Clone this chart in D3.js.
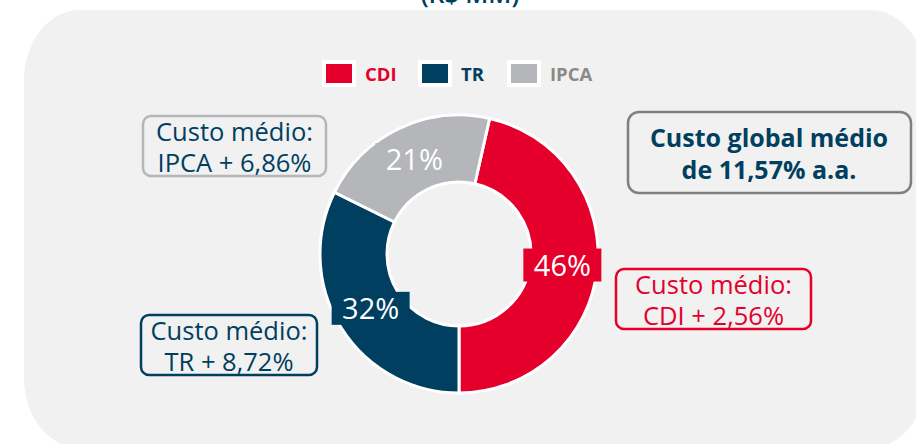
<!DOCTYPE html>
<html>
<head>
<meta charset="utf-8">
<script src="https://cdn.jsdelivr.net/npm/d3@7"></script>
<style>
  body { margin: 0; background: #fff; }
  svg { display: block; font-family: "Open Sans", "Noto Sans", sans-serif; }
</style>
</head>
<body>
<svg width="916" height="444"></svg>
<script>
var width = 916;
var height = 444;

// data
var categories = ['CDI', 'TR', 'IPCA'];
var shares = [46, 32, 21]; // % of debt
var sliceColors = ['#e4002b', '#003f5f', '#b4b6b9'];
var legendColors = ['#e4002b', '#003f5f', '#8a8a8a'];
var costLabels = [
	['Custo médio:', 'CDI + 2,56%'],
	['Custo médio:', 'TR + 8,72%'],
	['Custo médio:', 'IPCA + 6,86%']
];
var costBorders = ['#e4002b', '#003f5f', '#b4b6b9'];
var costText = ['#e4002b', '#003f5f', '#003f5f'];
var globalCost = ['Custo global médio', 'de 11,57% a.a.'];
var title = '(R$ MM)';

var navy = '#003f5f';
var cx = 459, cy = 254; // donut centre
var rIn = 72, rOut = 139;

var svg = d3.select('svg');

// title, mostly cut off by the top of the picture
svg.append('text')
	.attr('x', 470)
	.attr('y', 3)
	.attr('text-anchor', 'middle')
	.style('font-size', '25px')
	.style('font-weight', 600)
	.style('fill', navy)
	.text(title);

// grey panel
svg.append('rect')
	.attr('x', 24)
	.attr('y', 10)
	.attr('width', 902)
	.attr('height', 438)
	.attr('rx', 56)
	.attr('ry', 70)
	.style('fill', '#f1f1f1');

// legend
var legX = [322, 418, 507];
var leg = svg.selectAll('g.leg')
	.data(categories)
	.enter()
	.append('g')
	.attr('class', 'leg')
	.attr('transform', function(d, i) {return 'translate(' + legX[i] + ',60)';});

leg.append('rect')
	.attr('width', 34)
	.attr('height', 27)
	.style('fill', '#fff');

leg.append('rect')
	.attr('x', 4)
	.attr('y', 4)
	.attr('width', 26)
	.attr('height', 19)
	.style('fill', function(d, i) {return sliceColors[i];});

leg.append('text')
	.attr('x', 43)
	.attr('y', 21)
	.style('font-size', '18.5px')
	.style('font-weight', 700)
	.style('fill', function(d, i) {return legendColors[i];})
	.text(function(d) {return d;});

// donut: CDI ends straight down at 6 o'clock
var total = d3.sum(shares);
var start = Math.PI - 2 * Math.PI * shares[0] / total;

var pie = d3.pie()
	.sort(null)
	.value(function(d) {return d;})
	.startAngle(start)
	.endAngle(start + 2 * Math.PI);

var arc = d3.arc().innerRadius(rIn).outerRadius(rOut);
var labelArc = d3.arc().innerRadius(104).outerRadius(104);

var donut = svg.append('g')
	.attr('transform', 'translate(' + cx + ',' + cy + ')');

var slices = pie(shares);

donut.selectAll('path')
	.data(slices)
	.enter()
	.append('path')
	.attr('d', arc)
	.style('fill', function(d, i) {return sliceColors[i];})
	.style('stroke', '#fff')
	.style('stroke-width', 3);

var lab = donut.selectAll('g.lab')
	.data(slices)
	.enter()
	.append('g')
	.attr('class', 'lab')
	.attr('transform', function(d) {
		var c = labelArc.centroid(d);
		return 'translate(' + c[0] + ',' + c[1] + ')';
	});

lab.append('rect')
	.attr('x', -39)
	.attr('y', -17)
	.attr('width', 78)
	.attr('height', 33)
	.style('fill', function(d, i) {return sliceColors[i];});

lab.append('text')
	.attr('text-anchor', 'middle')
	.attr('y', 10)
	.style('font-size', '29px')
	.style('font-weight', 400)
	.style('fill', '#fff')
	.text(function(d) {return d.data + '%';});

// callout boxes
var boxes = [
	{x: 616, y: 269, w: 195, h: 60},
	{x: 141, y: 315, w: 176, h: 60},
	{x: 143, y: 116, w: 183, h: 60}
];

var call = svg.selectAll('g.call')
	.data(costLabels)
	.enter()
	.append('g')
	.attr('class', 'call')
	.attr('transform', function(d, i) {return 'translate(' + boxes[i].x + ',' + boxes[i].y + ')';});

call.append('rect')
	.attr('width', function(d, i) {return boxes[i].w;})
	.attr('height', function(d, i) {return boxes[i].h;})
	.attr('rx', 8)
	.style('fill', 'none')
	.style('stroke', function(d, i) {return costBorders[i];})
	.style('stroke-width', 2.5);

call.selectAll('text')
	.data(function(d, i) {return d.map(function(t) {return {t: t, i: i};});})
	.enter()
	.append('text')
	.attr('x', function(d) {return boxes[d.i].w / 2;})
	.attr('y', function(d, j) {return 25 + j * 31;})
	.attr('text-anchor', 'middle')
	.style('font-size', '25.5px')
	.style('fill', function(d) {return costText[d.i];})
	.text(function(d) {return d.t;});

// global cost box
var glob = svg.append('g')
	.attr('transform', 'translate(628,112)');

glob.append('rect')
	.attr('width', 283)
	.attr('height', 81)
	.attr('rx', 11)
	.style('fill', 'none')
	.style('stroke', '#7f7f7f')
	.style('stroke-width', 2.5);

glob.selectAll('text')
	.data(globalCost)
	.enter()
	.append('text')
	.attr('x', 141)
	.attr('y', function(d, i) {return 35 + i * 32;})
	.attr('text-anchor', 'middle')
	.style('font-size', '25px')
	.style('font-weight', 700)
	.style('fill', navy)
	.text(function(d) {return d;});
</script>
</body>
</html>
